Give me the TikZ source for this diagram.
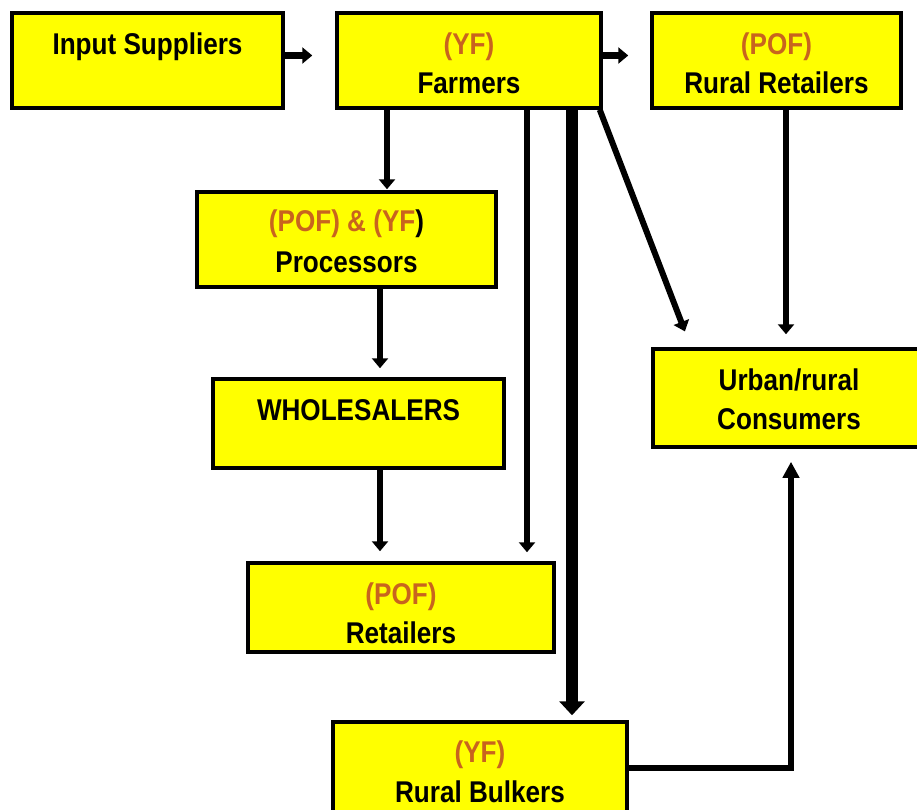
\documentclass[tikz,border=0pt]{standalone}
\usepackage{fontspec}
\setmainfont{Liberation Sans}[FakeStretch=0.87]
\usetikzlibrary{arrows.meta,calc}
\definecolor{boxyellow}{RGB}{255,255,0}
\definecolor{tagorange}{RGB}{200,100,30}
\newcommand{\tagtxt}[1]{\textcolor{tagorange}{#1}}
% two centred lines, lowered a little inside their box
\newcommand{\stagetext}[2][6pt]{\raisebox{-#1}[\height][\depth]{\begin{tabular}{@{}c@{}}#2\end{tabular}}}
\begin{document}
\begin{tikzpicture}[x=1pt,y=-1pt,
  stagebox/.style={draw=black,line width=3.5pt,fill=boxyellow,rectangle,inner sep=0pt,
    font=\bfseries\fontsize{30}{39}\selectfont},
  flow/.style={line width=6pt,-{Triangle[width=16pt,length=10pt]}},
  bulkflow/.style={line width=12pt,-{Triangle[width=25pt,length=14pt]}}]
\useasboundingbox (0,0) rectangle (917,809);

% stages of the chain
\node[stagebox,minimum width=271pt,minimum height=95pt] (inp) at (147.5,60.5)
  {\stagetext{Input Suppliers\\\mbox{}}};
\node[stagebox,minimum width=264pt,minimum height=95pt] (farm) at (469,60.5)
  {\stagetext{\tagtxt{(YF)}\\Farmers}};
\node[stagebox,minimum width=249pt,minimum height=95pt] (rret) at (776.5,60.5)
  {\stagetext{\tagtxt{(POF)}\\Rural Retailers}};
\node[stagebox,minimum width=299pt,minimum height=95pt] (proc) at (346.5,239.5)
  {\stagetext[4.5pt]{\tagtxt{(POF) \& (YF}){}\\[2pt]Processors}};
\node[stagebox,minimum width=291pt,minimum height=89pt] (whole) at (358.5,423.5)
  {\stagetext[9pt]{WHOLESALERS\\\mbox{}}};
\node[stagebox,minimum width=306pt,minimum height=89pt] (ret) at (401,607.5)
  {\stagetext[9pt]{\tagtxt{(POF)}\\Retailers}};
\node[stagebox,minimum width=294pt,minimum height=95pt] (bulk) at (480,769.5)
  {\stagetext[5pt]{\tagtxt{(YF)}\\[1pt]Rural Bulkers}};
\node[stagebox,minimum width=272pt,minimum height=98pt] (cons) at (789,398)
  {\stagetext[4pt]{Urban/rural\\Consumers}};

% columns used by the vertical connectors
\coordinate (cproc) at (387,0);
\coordinate (cwhole) at (380,0);
\coordinate (cret) at (527,0);
\coordinate (cbulk) at (572,0);
\coordinate (cdiag) at (691,0);
\coordinate (crret) at (786,0);
\coordinate (cup) at (791,0);

% connectors
\draw[flow,line width=7pt,shorten >=23pt] ([yshift=5pt]inp.east) -- ([yshift=5pt]farm.west);
\draw[flow,line width=7pt,shorten >=22pt] ([yshift=5pt]farm.east) -- ([yshift=5pt]rret.west);
\draw[flow,shorten >=1pt] (farm.south -| cproc) -- (proc.north -| cproc);
\draw[flow,shorten >=9pt] (proc.south -| cwhole) -- (whole.north -| cwhole);
\draw[flow,shorten >=10pt] (whole.south -| cwhole) -- (ret.north -| cwhole);
\draw[flow,shorten >=9pt] (farm.south -| cret) -- (ret.north -| cret);
\draw[bulkflow,shorten >=5pt] (farm.south -| cbulk) -- (bulk.north -| cbulk);
\draw[flow,shorten >=17pt] ([xshift=-3pt]farm.south east) -- (cons.north -| cdiag);
\draw[flow,shorten >=13pt] (rret.south -| crret) -- (cons.north -| crret);
\draw[flow,-{Triangle[width=16pt,length=16pt]},shorten >=13pt]
  ([yshift=2pt]bulk.east) -| (cons.south -| cup);
\end{tikzpicture}
\end{document}
